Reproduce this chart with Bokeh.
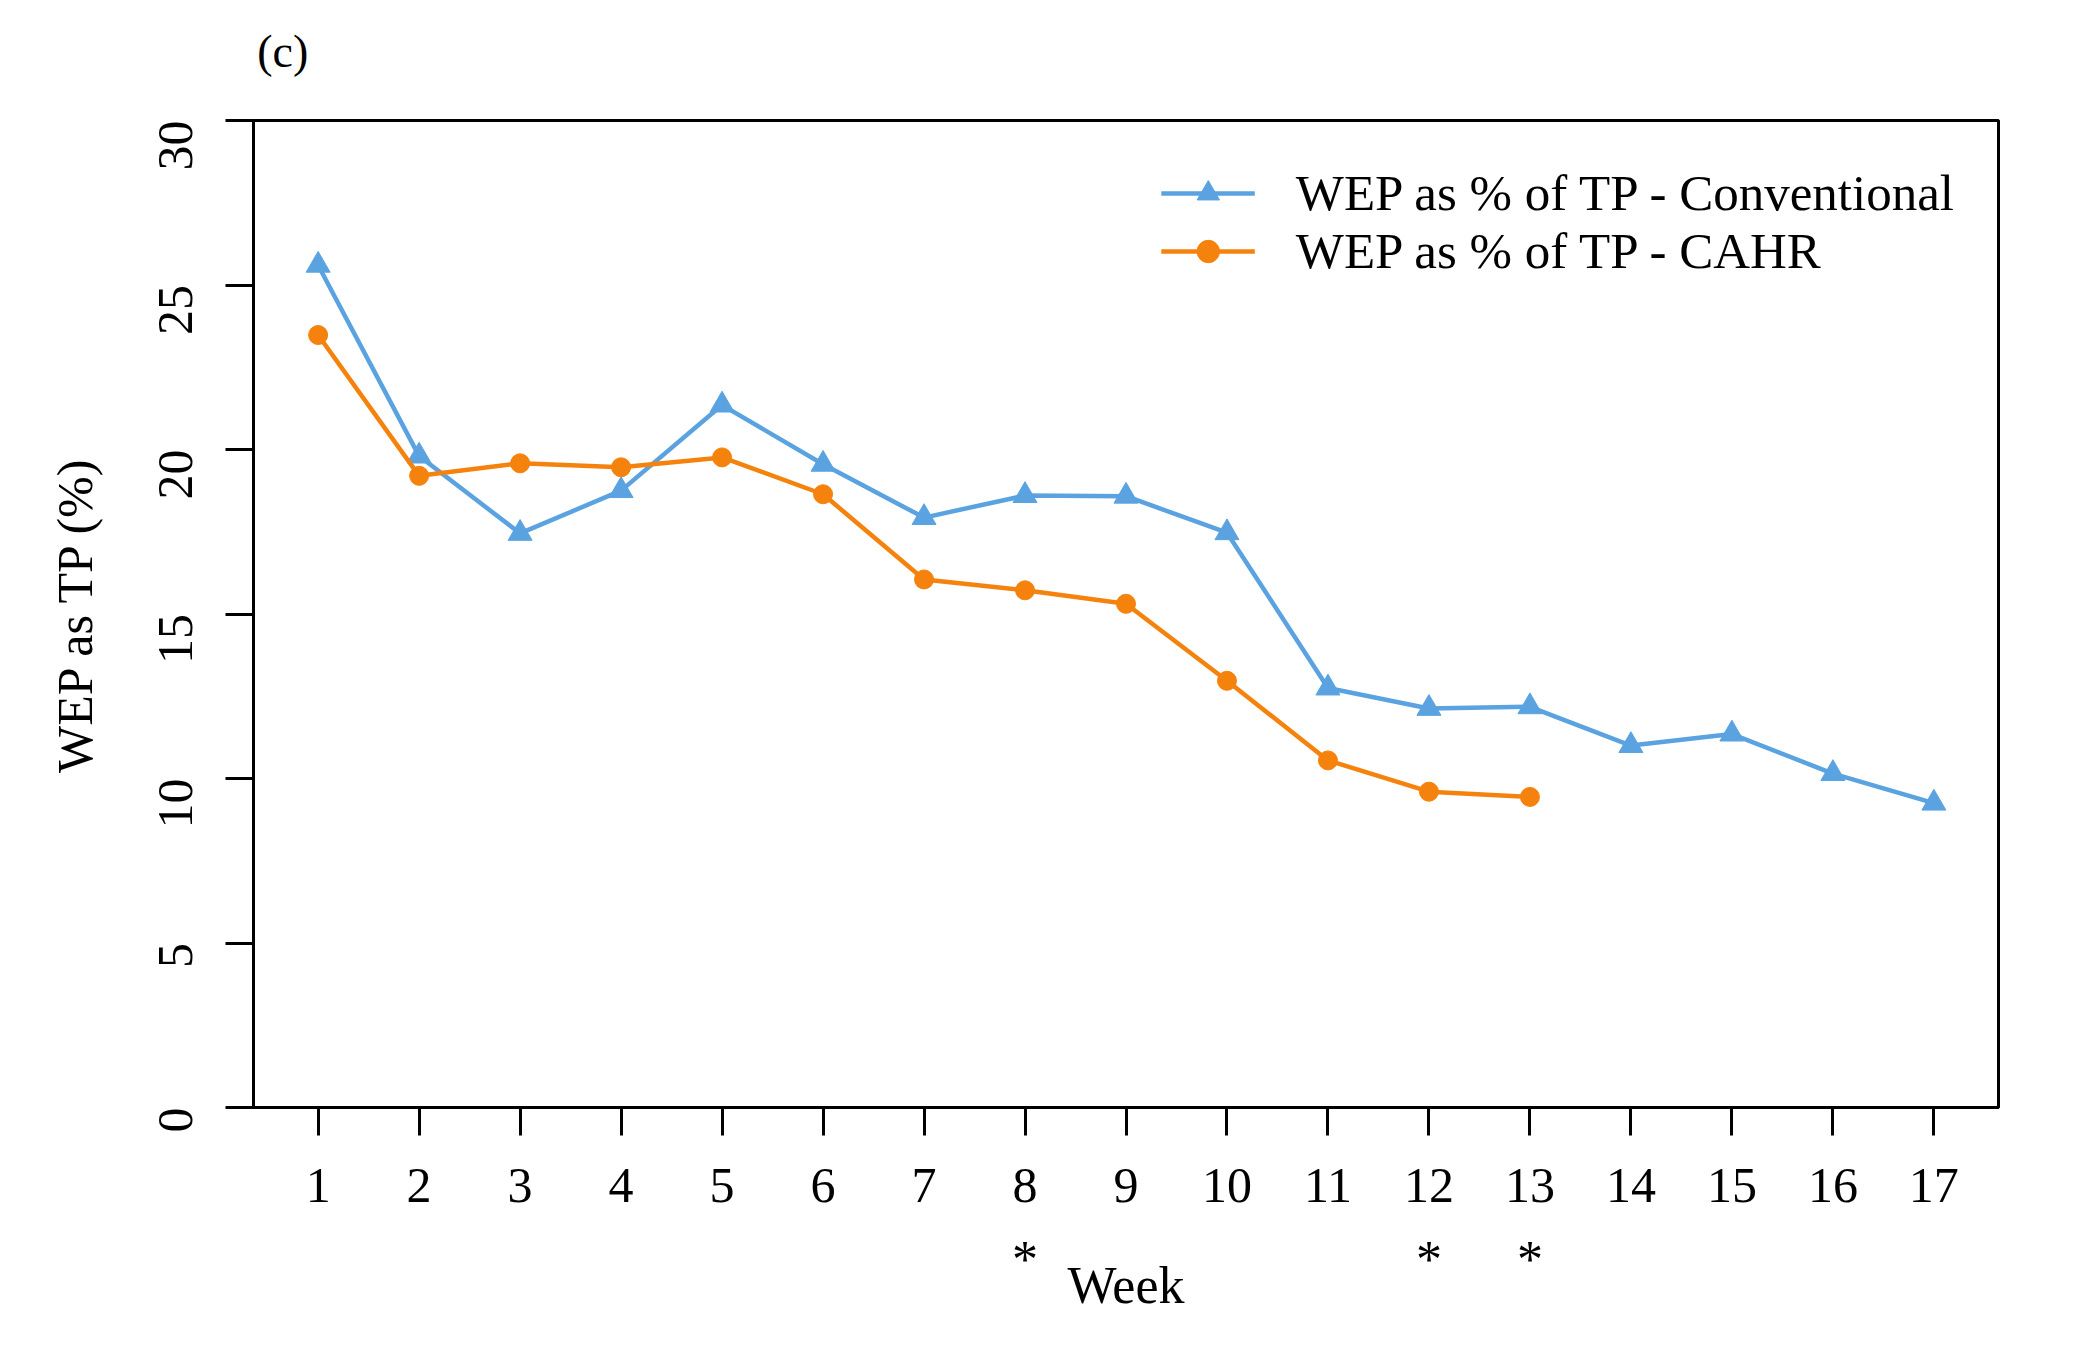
import math
from bokeh.plotting import figure
from bokeh.models import Range1d, FixedTicker, LinearAxis, Legend, LegendItem
from bokeh.embed import file_html
from bokeh.resources import INLINE

# ---- data ----
weeks_conv = list(range(1, 18))
wep_conv = [25.6, 19.8, 17.45, 18.75, 21.35, 19.55, 17.93, 18.6, 18.58,
            17.47, 12.75, 12.13, 12.18, 11.0, 11.35, 10.15, 9.25]
weeks_cahr = list(range(1, 14))
wep_cahr = [23.48, 19.2, 19.58, 19.46, 19.76, 18.64, 16.05, 15.72, 15.31,
            12.97, 10.55, 9.6, 9.44]
x_ticks = list(range(1, 18))
y_ticks = [0, 5, 10, 15, 20, 25, 30]
sig_weeks = [8, 12, 13]
label_conv = "WEP as % of TP - Conventional"
label_cahr = "WEP as % of TP - CAHR"
panel_tag = "(c)"
tag_pos = 0.65

BLUE = "#5AA3E0"
ORANGE = "#F5820C"
FONT = "Liberation Serif"

p = figure(width=2084, height=1356,
           x_range=Range1d(0.36, 17.64), y_range=Range1d(0, 30),
           toolbar_location=None, output_backend="svg",
           min_border_left=253, min_border_right=86,
           min_border_top=120, min_border_bottom=249)

p.xgrid.visible = False
p.ygrid.visible = False
p.outline_line_color = "black"
p.outline_line_width = 3
p.outline_line_alpha = 1.0
p.background_fill_color = "white"
p.border_fill_color = "white"

for ax in (p.xaxis[0], p.yaxis[0]):
    ax.axis_line_color = "black"
    ax.axis_line_width = 3
    ax.major_tick_line_color = "black"
    ax.major_tick_line_width = 3
    ax.major_tick_out = 28
    ax.major_tick_in = 0
    ax.minor_tick_line_color = None
    ax.major_label_text_font = FONT
    ax.major_label_text_font_size = "50px"
    ax.major_label_text_color = "black"
    ax.axis_label_text_font = FONT
    ax.axis_label_text_font_style = "normal"
    ax.axis_label_text_font_size = "50px"
    ax.axis_label_text_color = "black"

p.xaxis.ticker = FixedTicker(ticks=x_ticks)
p.yaxis.ticker = FixedTicker(ticks=y_ticks)
p.yaxis.axis_label = "WEP as TP (%)"
p.yaxis.major_label_orientation = math.pi / 2
p.xaxis.major_label_standoff = 33
p.yaxis.major_label_standoff = 50
p.yaxis.axis_label_standoff = 37

# second axis underneath carrying the significance asterisks and the title
sig_axis = LinearAxis(ticker=FixedTicker(ticks=sig_weeks),
                      major_label_overrides={w: "*" for w in sig_weeks},
                      axis_line_color=None, major_tick_line_color=None,
                      minor_tick_line_color=None,
                      major_tick_out=0, major_tick_in=0,
                      major_label_standoff=26,
                      major_label_text_font=FONT,
                      major_label_text_font_size="52px",
                      major_label_text_color="black",
                      axis_label="Week", axis_label_standoff=-34,
                      axis_label_text_font=FONT,
                      axis_label_text_font_style="normal",
                      axis_label_text_font_size="52px",
                      axis_label_text_color="black")
p.add_layout(sig_axis, "below")

# panel tag "(c)" above the frame
tag_axis = LinearAxis(ticker=FixedTicker(ticks=[tag_pos]),
                      major_label_overrides={tag_pos: panel_tag},
                      axis_line_color=None, major_tick_line_color=None,
                      minor_tick_line_color=None,
                      major_tick_out=0, major_tick_in=0,
                      major_label_standoff=44,
                      major_label_text_font=FONT,
                      major_label_text_font_size="46px",
                      major_label_text_color="black")
p.add_layout(tag_axis, "above")

l1 = p.line(weeks_conv, wep_conv, line_color=BLUE, line_width=4.5)
m1 = p.scatter(weeks_conv, wep_conv, marker="triangle", size=24,
               fill_color=BLUE, line_color=BLUE)
l2 = p.line(weeks_cahr, wep_cahr, line_color=ORANGE, line_width=4.5)
m2 = p.scatter(weeks_cahr, wep_cahr, marker="circle", size=19,
               fill_color=ORANGE, line_color=ORANGE)

legend = Legend(items=[LegendItem(label=label_conv, renderers=[l1, m1]),
                       LegendItem(label=label_cahr, renderers=[l2, m2])],
                location="top_right", margin=44, padding=0, spacing=0,
                glyph_width=94, glyph_height=56, label_standoff=41,
                label_text_font=FONT, label_text_font_size="51px",
                label_text_color="black",
                border_line_alpha=0, background_fill_alpha=0)
p.add_layout(legend, "center")

open("out.html", "w").write(file_html(p, INLINE))
